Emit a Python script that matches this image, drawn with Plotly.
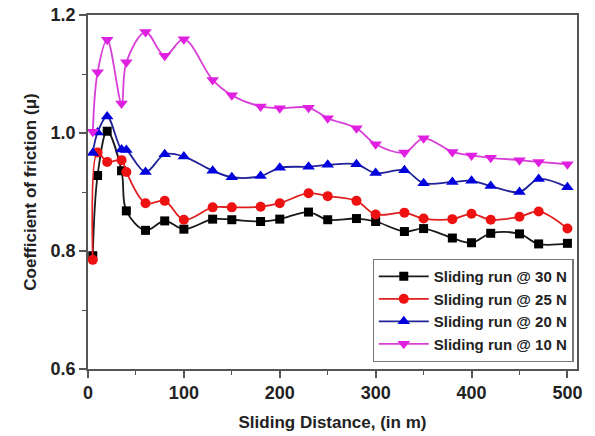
import plotly.graph_objects as go

# Sliding distance (m) at which the coefficient of friction was sampled
distance = [5, 10, 20, 35, 40, 60, 80, 100, 130, 150, 180, 200, 230, 250,
            280, 300, 330, 350, 380, 400, 420, 450, 470, 500]

# Coefficient of friction for each applied load
cof_30N = [0.792, 0.928, 1.003, 0.936, 0.868, 0.835, 0.851, 0.837, 0.854, 0.853,
           0.850, 0.854, 0.866, 0.853, 0.855, 0.850, 0.833, 0.838, 0.822, 0.814,
           0.830, 0.829, 0.812, 0.813]
cof_25N = [0.785, 0.967, 0.951, 0.954, 0.934, 0.881, 0.885, 0.853, 0.874, 0.874,
           0.875, 0.881, 0.898, 0.893, 0.885, 0.862, 0.865, 0.855, 0.854, 0.863,
           0.853, 0.858, 0.867, 0.838]
cof_20N = [0.966, 1.001, 1.028, 0.972, 0.971, 0.934, 0.964, 0.960, 0.936, 0.925,
           0.927, 0.941, 0.943, 0.946, 0.947, 0.932, 0.937, 0.915, 0.917, 0.919,
           0.910, 0.900, 0.922, 0.908]
cof_10N = [1.002, 1.103, 1.158, 1.050, 1.120, 1.171, 1.131, 1.159, 1.090, 1.064,
           1.045, 1.042, 1.043, 1.025, 1.008, 0.981, 0.967, 0.991, 0.968, 0.962,
           0.958, 0.954, 0.951, 0.947]

series = [
    ("Sliding run @ 30 N", cof_30N, "#1a1a1a", "#000000", "square", 9),
    ("Sliding run @ 25 N", cof_25N, "#e02020", "#ee1111", "circle", 10),
    ("Sliding run @ 20 N", cof_20N, "#22229a", "#0000dd", "triangle-up", 11),
    ("Sliding run @ 10 N", cof_10N, "#d83ed8", "#e020e0", "triangle-down", 11),
]

fig = go.Figure()
for name, values, line_col, mark_col, symbol, size in series:
    fig.add_trace(go.Scatter(
        x=distance, y=values, name=name, mode="lines+markers",
        line=dict(color=line_col, width=1.8, shape="spline", smoothing=1.0),
        marker=dict(color=mark_col, symbol=symbol, size=size,
                    line=dict(width=0)),
    ))

font_family = "Liberation Sans, Arial, sans-serif"
axis_common = dict(
    showgrid=False, zeroline=False, automargin=False,
    showline=True, linecolor="#555555", linewidth=1.5, mirror=True,
    ticks="outside", ticklen=7, tickwidth=1.5, tickcolor="#555555",
    tickfont=dict(family=font_family, size=18, color="#222222", weight="bold"),
)

fig.update_layout(
    width=595, height=436,
    margin=dict(l=88, r=18, t=15, b=67),
    paper_bgcolor="white", plot_bgcolor="white",
    showlegend=True,
    legend=dict(
        x=0.993, y=0.02, xanchor="right", yanchor="bottom",
        bgcolor="white", bordercolor="#777777", borderwidth=1.2,
        font=dict(family=font_family, size=15, color="#222222", weight="bold"),
        itemwidth=50, tracegroupgap=0,
    ),
    xaxis=dict(
        range=[0, 510], tickvals=[0, 100, 200, 300, 400, 500],
        minor=dict(tickvals=[50, 150, 250, 350, 450], ticks="outside",
                   ticklen=4, tickcolor="#555555", tickwidth=1.2),
        title=dict(text="Sliding Distance, (in m)", standoff=14,
                   font=dict(family=font_family, size=17, color="#222222",
                             weight="bold")),
        **axis_common,
    ),
    yaxis=dict(
        range=[0.6, 1.2], tickvals=[0.6, 0.8, 1.0, 1.2],
        ticktext=["0.6", "0.8", "1.0", "1.2"],
        minor=dict(tickvals=[0.7, 0.9, 1.1], ticks="outside",
                   ticklen=4, tickcolor="#555555", tickwidth=1.2),
        title=dict(text="Coefficient of friction (μ)", standoff=10,
                   font=dict(family=font_family, size=17, color="#222222",
                             weight="bold")),
        **axis_common,
    ),
)

fig.write_html("out.html")
